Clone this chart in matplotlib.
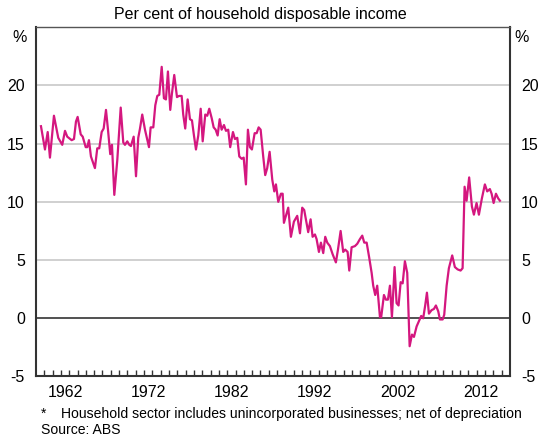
import matplotlib
matplotlib.use('Agg')
import matplotlib.pyplot as plt

plt.rcParams['font.family'] = ['Liberation Sans', 'DejaVu Sans']

# data (year, per cent of disposable income)
YEARS = [1959.60, 1960.08, 1960.41, 1960.68, 1961.16, 1961.68, 1962.16, 1962.49, 1962.76, 1963.29,
         1963.57, 1963.81, 1964.01, 1964.38, 1964.62, 1964.98, 1965.17, 1965.37, 1965.61, 1966.09,
         1966.37, 1966.61, 1966.90, 1967.14, 1967.42, 1967.66, 1967.93, 1968.14, 1968.42, 1968.78,
         1969.19, 1969.50, 1969.70, 1969.98, 1970.22, 1970.42, 1970.75, 1971.03, 1971.30, 1971.51,
         1971.78, 1972.11, 1972.59, 1972.79, 1973.11, 1973.35, 1973.59, 1973.83, 1974.12, 1974.39,
         1974.63, 1974.87, 1975.15, 1975.35, 1975.63, 1975.96, 1976.20, 1976.52, 1976.71, 1976.95,
         1977.24, 1977.52, 1977.76, 1978.00, 1978.24, 1978.52, 1978.81, 1979.05, 1979.36, 1979.60,
         1979.84, 1980.13, 1980.37, 1980.61, 1980.85, 1981.09, 1981.33, 1981.61, 1981.85, 1982.12,
         1982.36, 1982.69, 1982.93, 1983.21, 1983.45, 1983.74, 1983.98, 1984.25, 1984.49, 1984.73,
         1984.97, 1985.30, 1985.54, 1985.78, 1986.02, 1986.33, 1986.57, 1986.81, 1987.10, 1987.42,
         1987.66, 1987.86, 1988.14, 1988.46, 1988.67, 1988.82, 1989.34, 1989.66, 1990.02, 1990.42,
         1990.75, 1991.02, 1991.26, 1991.74, 1992.03, 1992.27, 1992.55, 1992.75, 1993.03, 1993.27,
         1993.55, 1993.79, 1994.03, 1994.35, 1994.68, 1995.07, 1995.32, 1995.64, 1995.95, 1996.19,
         1996.48, 1996.68, 1996.96, 1997.36, 1997.64, 1997.96, 1998.24, 1998.48, 1998.77, 1999.08,
         1999.37, 1999.56, 1999.80, 2000.04, 2000.37, 2000.52, 2000.85, 2001.09, 2001.33, 2001.57,
         2001.81, 2002.13, 2002.37, 2002.61, 2002.86, 2003.10, 2003.37, 2003.65, 2003.94, 2004.22,
         2004.46, 2004.78, 2005.09, 2005.33, 2005.57, 2005.81, 2006.02, 2006.26, 2006.58, 2006.86,
         2007.10, 2007.38, 2007.58, 2007.91, 2008.10, 2008.39, 2008.66, 2009.06, 2009.38, 2009.71,
         2010.07, 2010.31, 2010.55, 2010.79, 2011.10, 2011.43, 2011.67, 2011.99, 2012.27, 2012.63,
         2012.99, 2013.27, 2013.59, 2013.80, 2014.04, 2014.32, 2014.59, 2014.80]
SAVING = [16.5, 14.5, 16.0, 13.8, 17.4, 15.5, 14.9, 16.1, 15.6, 15.3,
          15.4, 16.9, 17.3, 15.8, 15.6, 14.7, 14.7, 15.3, 13.9, 12.9,
          14.6, 14.6, 16.0, 16.3, 17.9, 16.2, 14.1, 14.9, 10.6, 13.6,
          18.1, 15.1, 14.9, 15.2, 14.9, 14.8, 15.6, 12.2, 15.5, 16.3,
          17.5, 16.2, 14.7, 16.4, 16.4, 18.3, 19.1, 19.2, 21.6, 18.9,
          18.8, 21.2, 17.9, 19.3, 20.9, 19.0, 19.1, 19.1, 17.5, 16.3,
          18.8, 17.1, 17.0, 15.7, 14.5, 15.7, 18.0, 15.2, 17.5, 17.4,
          18.0, 17.2, 16.4, 16.2, 15.7, 17.1, 16.2, 16.6, 16.1, 16.2,
          14.7, 16.0, 15.4, 15.5, 13.9, 13.7, 13.8, 11.5, 16.2, 14.7,
          14.5, 15.9, 15.9, 16.4, 16.2, 13.9, 12.3, 12.9, 14.3, 11.9,
          10.9, 11.5, 10.0, 10.7, 10.7, 8.2, 9.5, 7.0, 8.3, 8.8,
          7.3, 9.5, 9.3, 7.4, 8.5, 7.0, 7.2, 6.8, 5.7, 6.5,
          5.6, 7.0, 6.5, 6.2, 5.5, 4.8, 5.9, 7.5, 5.7, 5.9,
          5.7, 4.1, 6.1, 6.2, 6.4, 6.8, 7.1, 6.5, 6.5, 5.2,
          3.9, 2.8, 2.0, 2.8, 0.1, 0.1, 2.0, 1.6, 1.6, 2.8,
          0.1, 4.4, 1.3, 1.1, 3.1, 3.0, 4.9, 3.9, -2.4, -1.4,
          -1.6, -0.7, -0.2, 0.2, 0.0, 1.1, 2.2, 0.4, 0.7, 0.8,
          1.1, 0.6, -0.1, -0.1, 0.3, 2.8, 4.3, 5.4, 4.4, 4.2,
          4.1, 4.3, 11.3, 10.1, 12.1, 9.6, 8.9, 9.9, 8.9, 10.3,
          11.5, 10.9, 11.1, 10.7, 9.9, 10.7, 10.3, 10.1]

YTICKS = [-5, 0, 5, 10, 15, 20]
YEAR_LABELS = ['1962', '1972', '1982', '1992', '2002', '2012']
TICK_YEARS = list(range(1960, 2016))

fig = plt.figure(figsize=(5.46, 4.36), dpi=100)
ax = fig.add_axes([0.0659, 0.1365, 0.868, 0.801])

for v in [5, 10, 15, 20]:
    ax.axhline(v, color='#c8c8c8', lw=1.2, zorder=1)
ax.axhline(0, color='#333333', lw=1.2, zorder=1)

ax.plot(YEARS, SAVING, color='#d4177f', lw=1.6, zorder=3)

ax.set_xlim(1959, 2016)
ax.set_ylim(-5, 25)

# y labels on both sides, no tick marks
ax.set_yticks(YTICKS)
ax.set_yticklabels([str(v) for v in YTICKS])
ax.tick_params(axis='y', left=False, right=False, labelleft=True, labelright=True,
               labelsize=11.5, pad=4.5, colors='black')

# yearly ticks pointing in, labels in the middle of the year
ax.set_xticks(TICK_YEARS)
ax.set_xticklabels([])
ax.tick_params(axis='x', which='major', direction='in', length=4, width=1, color='#333333')
ax.set_xticks([int(y) + 0.5 for y in YEAR_LABELS], YEAR_LABELS, minor=True)
ax.tick_params(axis='x', which='minor', length=0, labelsize=11.5, pad=6)

for side in ['left', 'right', 'bottom']:
    ax.spines[side].set_color('#333333')
    ax.spines[side].set_linewidth(1.5)
ax.spines['top'].set_color('#555555')
ax.spines['top'].set_linewidth(1.0)

fig.text(260 / 546, 1 - 14 / 436, 'Per cent of household disposable income', ha='center', va='center', fontsize=11.5)
fig.text(20 / 546, 1 - 38 / 436, '%', ha='center', va='center', fontsize=11.5)
fig.text(522 / 546, 1 - 38 / 436, '%', ha='center', va='center', fontsize=11.5)
fig.text(41 / 546, 1 - 414 / 436, '*', ha='left', va='center', fontsize=10)
fig.text(61 / 546, 1 - 414 / 436, 'Household sector includes unincorporated businesses; net of depreciation',
         ha='left', va='center', fontsize=10.1)
fig.text(41 / 546, 1 - 430 / 436, 'Source: ABS', ha='left', va='center', fontsize=10.1)

fig.savefig('out.png', dpi=100)
